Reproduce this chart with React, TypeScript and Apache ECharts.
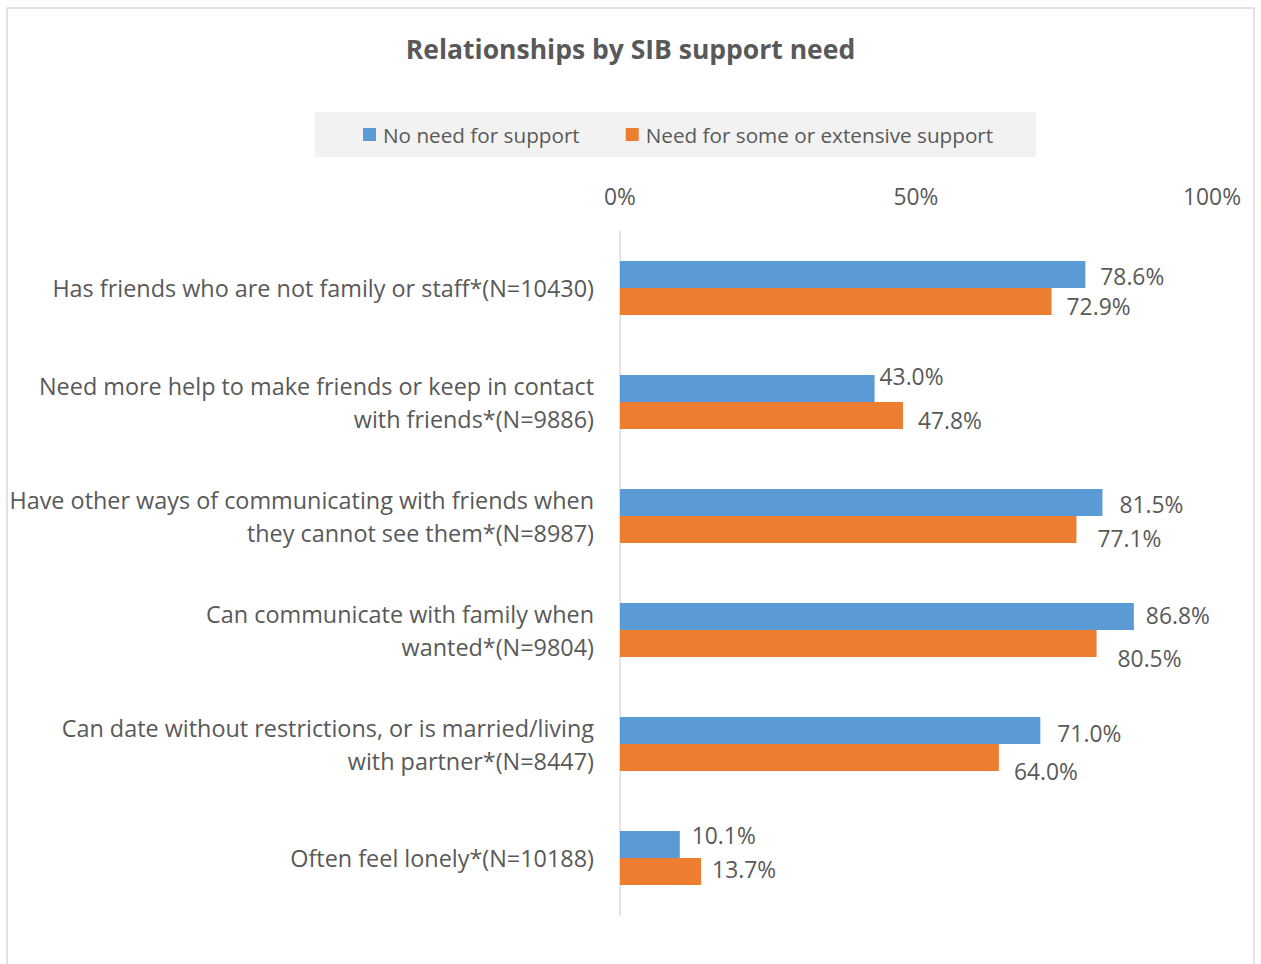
import React, { useEffect, useRef } from "react";
import * as echarts from "echarts";

const categories = [
  "Has friends who are not family or staff*(N=10430)",
  "Need more help to make friends or keep in contact\nwith friends*(N=9886)",
  "Have other ways of communicating with friends when\nthey cannot see them*(N=8987)",
  "Can communicate with family when\nwanted*(N=9804)",
  "Can date without restrictions, or is married/living\nwith partner*(N=8447)",
  "Often feel lonely*(N=10188)",
];
const noNeed = [78.6, 43.0, 81.5, 86.8, 71.0, 10.1];
const someNeed = [72.9, 47.8, 77.1, 80.5, 64.0, 13.7];
const seriesNames = ["No need for support", "Need for some or extensive support"];
const xTicks = [0, 50, 100];

// label placement tweaks (layout only, not data)
const offsetsBlue = [[10, 2], [0, -12], [12, 2], [7, -1], [12, 3], [7, -9]];
const offsetsOrange = [[10, 5], [10, 5], [16, 9], [16, 15], [10, 14], [6, -2]];

const FONT = "'Open Sans', 'Noto Sans', sans-serif";
const TXT = "#595959";

export default function App() {
  const ref = useRef<HTMLDivElement>(null);
  useEffect(() => {
    if (!ref.current) return;
    const chart = echarts.init(ref.current, undefined, { renderer: "svg" });
    const mkData = (vals: number[], offs: number[][]) =>
      vals.map((v, i) => ({ value: v, label: { offset: offs[i] } }));
    const labelStyle = {
      show: true,
      position: "right",
      distance: 5,
      formatter: (p: any) => p.value.toFixed(1) + "%",
      fontFamily: FONT,
      fontSize: 22.8,
      color: TXT,
    };
    chart.setOption({
      animation: false,
      backgroundColor: "#ffffff",
      textStyle: { fontFamily: FONT },
      title: {
        text: "Relationships by SIB support need",
        left: "center",
        top: 30,
        textStyle: { fontFamily: FONT, fontSize: 26.5, fontWeight: "bold", color: TXT },
      },
      graphic: [
        {
          type: "rect",
          shape: { x: 7, y: 8, width: 1247, height: 980 },
          style: { fill: "none", stroke: "#d9d9d9", lineWidth: 1.5 },
          silent: true,
          z: -10,
        },
        {
          type: "rect",
          shape: { x: 315, y: 112, width: 721, height: 45 },
          style: { fill: "#f2f2f2" },
          silent: true,
          z: -5,
        },
      ],
      legend: {
        left: 358,
        top: 119,
        itemWidth: 13,
        itemHeight: 13,
        itemGap: 46,
        icon: "rect",
        textStyle: { fontFamily: FONT, fontSize: 20.7, color: TXT, padding: [0, 0, 0, 2] },
        data: seriesNames,
      },
      grid: { left: 620, top: 231, width: 592, height: 684, containLabel: false },
      xAxis: {
        type: "value",
        position: "top",
        min: xTicks[0],
        max: xTicks[xTicks.length - 1],
        interval: xTicks[1] - xTicks[0],
        axisLine: { show: false },
        axisTick: { show: false },
        splitLine: { show: false },
        axisLabel: {
          formatter: "{value}%",
          fontFamily: FONT,
          fontSize: 22.8,
          color: TXT,
          margin: 23,
        },
      },
      yAxis: {
        type: "category",
        inverse: true,
        data: categories,
        axisLine: { show: true, lineStyle: { color: "#d9d9d9", width: 1.5 } },
        axisTick: { show: false },
        axisLabel: {
          fontFamily: FONT,
          fontSize: 23.4,
          color: TXT,
          margin: 26,
          lineHeight: 33,
          align: "right",
        },
      },
      series: [
        {
          name: seriesNames[0],
          type: "bar",
          data: mkData(noNeed, offsetsBlue),
          barWidth: 27,
          barGap: "0%",
          itemStyle: { color: "#5b9bd5" },
          label: labelStyle,
        },
        {
          name: seriesNames[1],
          type: "bar",
          data: mkData(someNeed, offsetsOrange),
          barWidth: 27,
          barGap: "0%",
          itemStyle: { color: "#ed7d31" },
          label: labelStyle,
        },
      ],
    });
    return () => chart.dispose();
  }, []);
  return (
    <div
      ref={ref}
      style={{ position: "fixed", left: 0, top: 0, width: 1261, height: 964 }}
    />
  );
}
